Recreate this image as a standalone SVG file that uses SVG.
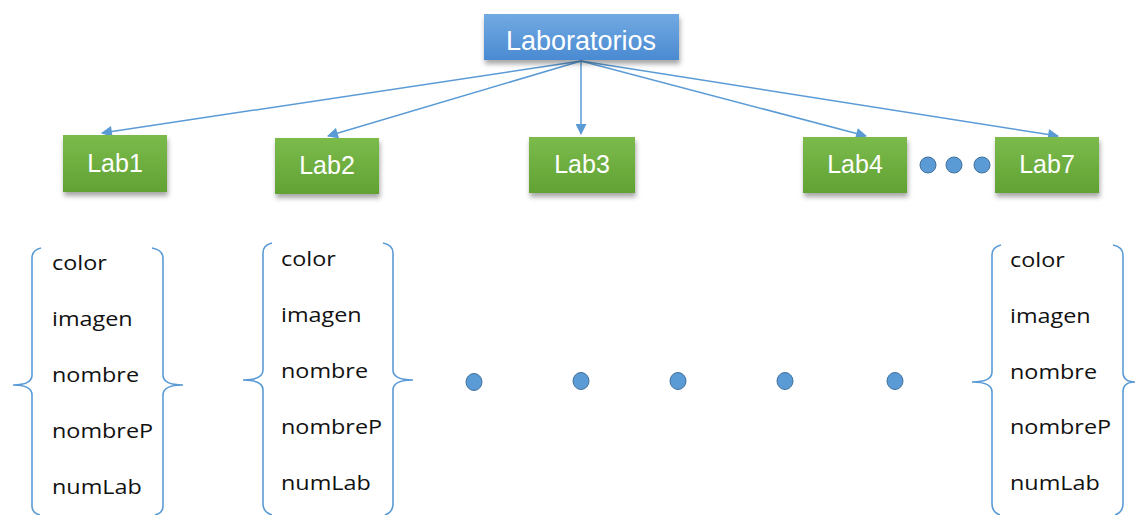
<svg xmlns="http://www.w3.org/2000/svg" width="1135" height="515" viewBox="0 0 1135 515">
<defs>
<linearGradient id="gBlue" x1="0" y1="0" x2="0" y2="1"><stop offset="0" stop-color="#72aae2"/><stop offset="1" stop-color="#4a8ad2"/></linearGradient>
<linearGradient id="gGreen" x1="0" y1="0" x2="0" y2="1"><stop offset="0" stop-color="#7bbb4c"/><stop offset="1" stop-color="#62a234"/></linearGradient>
<filter id="sh" x="-20%" y="-20%" width="140%" height="160%"><feDropShadow dx="1" dy="4" stdDeviation="2.5" flood-color="#000" flood-opacity="0.35"/></filter>
<marker id="ah" viewBox="0 0 10 10" refX="9" refY="5" markerWidth="12" markerHeight="11" markerUnits="userSpaceOnUse" orient="auto"><path d="M0,0 L10,5 L0,10 z" fill="#5b9bd5"/></marker>
</defs>
<style>
.box{filter:url(#sh)}
.lbl{font-family:"Liberation Sans",Arial,sans-serif;fill:#fff;text-anchor:middle}
.fld{font-family:"Open Sans","Liberation Sans",sans-serif;font-size:20px;fill:#111}
.br{fill:none;stroke:#5b9bd5;stroke-width:1.6}
.dot{fill:#5b9bd5;stroke:#41719c;stroke-width:1}
.cn{fill:none;stroke:#5b9bd5;stroke-width:1.5;marker-end:url(#ah)}
</style>
<rect width="1135" height="515" fill="#fff"/>
<g id="connectors">
<line class="cn" x1="581" y1="61" x2="102" y2="133"/>
<line class="cn" x1="581" y1="61" x2="328" y2="136"/>
<line class="cn" x1="581" y1="61" x2="581" y2="134"/>
<line class="cn" x1="581" y1="61" x2="866" y2="136"/>
<line class="cn" x1="581" y1="61" x2="1058" y2="136"/>
</g>
<g id="laboratorios"><rect class="box" x="484" y="14" width="195" height="46" fill="url(#gBlue)"/><text class="lbl" x="581" y="50" font-size="27">Laboratorios</text></g>
<g id="lab1"><rect class="box" x="63" y="135" width="104" height="57" fill="url(#gGreen)"/><text class="lbl" x="115" y="172" font-size="25">Lab1</text></g>
<g id="lab2"><rect class="box" x="275" y="138" width="104" height="56" fill="url(#gGreen)"/><text class="lbl" x="327" y="174" font-size="25">Lab2</text></g>
<g id="lab3"><rect class="box" x="529" y="137" width="106" height="56" fill="url(#gGreen)"/><text class="lbl" x="582" y="173" font-size="25">Lab3</text></g>
<g id="lab4"><rect class="box" x="803" y="137" width="104" height="56" fill="url(#gGreen)"/><text class="lbl" x="855" y="173" font-size="25">Lab4</text></g>
<g id="dots-top"><circle class="dot" cx="928" cy="165" r="8"/><circle class="dot" cx="954" cy="165" r="8"/><circle class="dot" cx="982" cy="165" r="8"/></g>
<g id="lab7"><rect class="box" x="995" y="137" width="104" height="56" fill="url(#gGreen)"/><text class="lbl" x="1047" y="173" font-size="25">Lab7</text></g>
<g id="fields1">
<path class="br" d="M41,248 Q32,250 32,258 L32,375 Q32,385 13,385 Q32,385 32,395 L32,506 Q32,513 40,515"/>
<path class="br" d="M152,248 Q163,250 163,258 L163,375 Q163,385 183,385 Q163,385 163,395 L163,506 Q163,513 155,515"/>
<g transform="translate(52,0) scale(1.17,1)"><text class="fld" x="0" y="270">color</text><text class="fld" x="0" y="326">imagen</text><text class="fld" x="0" y="382">nombre</text><text class="fld" x="0" y="438">nombreP</text><text class="fld" x="0" y="494">numLab</text></g>
</g>
<g id="fields2">
<path class="br" d="M272,243 Q263,245 263,253 L263,370 Q263,380 243,380 Q263,380 263,390 L263,504 Q263,512 272,515"/>
<path class="br" d="M383,243 Q393,245 393,253 L393,370 Q393,380 413,380 Q393,380 393,390 L393,504 Q393,512 385,515"/>
<g transform="translate(281,0) scale(1.17,1)"><text class="fld" x="0" y="266">color</text><text class="fld" x="0" y="322">imagen</text><text class="fld" x="0" y="378">nombre</text><text class="fld" x="0" y="434">nombreP</text><text class="fld" x="0" y="490">numLab</text></g>
</g>
<g id="dots-mid"><ellipse class="dot" cx="474" cy="382" rx="8" ry="8.5"/><ellipse class="dot" cx="581" cy="381" rx="8" ry="8.5"/><ellipse class="dot" cx="678" cy="381" rx="8" ry="8.5"/><ellipse class="dot" cx="785" cy="381" rx="8" ry="8.5"/><ellipse class="dot" cx="895" cy="381" rx="8" ry="8.5"/></g>
<g id="fields3">
<path class="br" d="M1001,245 Q992,247 992,255 L992,372 Q992,382 972,382 Q992,382 992,392 L992,504 Q992,512 1000,515"/>
<path class="br" d="M1113,245 Q1123,247 1123,255 L1123,372 Q1123,382 1135,382 Q1123,382 1123,392 L1123,504 Q1123,512 1115,515"/>
<g transform="translate(1010,0) scale(1.17,1)"><text class="fld" x="0" y="267">color</text><text class="fld" x="0" y="323">imagen</text><text class="fld" x="0" y="379">nombre</text><text class="fld" x="0" y="434">nombreP</text><text class="fld" x="0" y="490">numLab</text></g>
</g>
</svg>
